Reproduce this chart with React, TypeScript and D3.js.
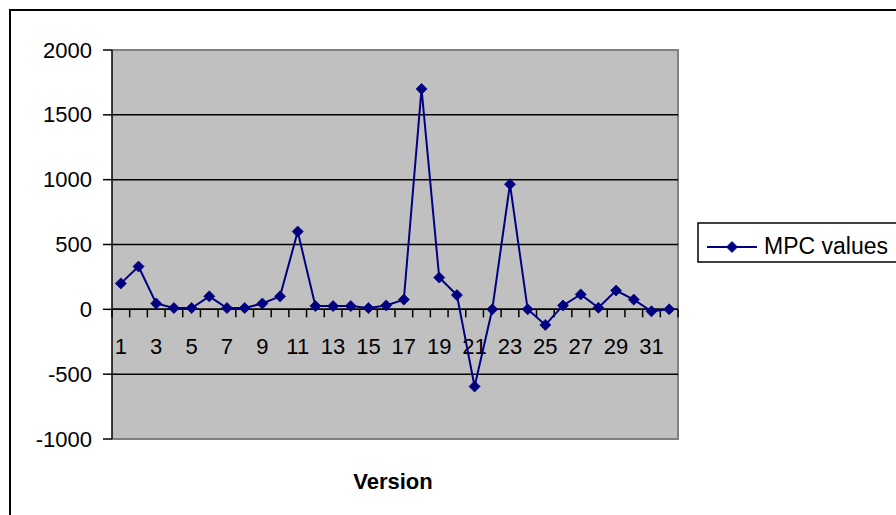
import React from "react";
import * as d3 from "d3";

// Version numbers along the category axis
const versions: number[] = d3.range(1, 33);

// MPC value per version
const mpcValues: number[] = [
  200, 330, 45, 10, 10, 100, 10, 10, 45, 100,
  600, 25, 25, 25, 10, 30, 75, 1700, 245, 110,
  -595, 0, 965, 0, -120, 30, 115, 12, 145, 75,
  -15, 0,
];

const yTicks: number[] = [-1000, -500, 0, 500, 1000, 1500, 2000];

const seriesName = "MPC values";
const axisTitle = "Version";

const W = 896;
const H = 515;
const plot = { left: 112, top: 50, right: 678, bottom: 439 };
const NAVY = "#000080";
const FONT = "'Liberation Sans', Arial, sans-serif";

function Diamond({ x, y, r = 5.5 }: { x: number; y: number; r?: number }) {
  return (
    <path
      d={`M${x},${y - r}L${x + r},${y}L${x},${y + r}L${x - r},${y}Z`}
      fill={NAVY}
      stroke={NAVY}
      strokeWidth={0.8}
    />
  );
}

export default function App() {
  const x = d3
    .scaleBand<number>()
    .domain(versions)
    .range([plot.left, plot.right])
    .padding(0);
  const y = d3.scaleLinear().domain([-1000, 2000]).range([plot.bottom, plot.top]);

  const cx = (v: number) => (x(v) as number) + x.bandwidth() / 2;
  const pts: [number, number][] = versions.map((v, i) => [cx(v), y(mpcValues[i])]);
  const line = d3.line();

  const y0 = y(0);
  const boundaries = d3.range(0, versions.length + 1).map(
    (i) => plot.left + i * x.bandwidth()
  );

  return (
    <svg
      width={W}
      height={H}
      style={{ position: "absolute", left: 0, top: 0, background: "#fff" }}
      fontFamily={FONT}
    >
      {/* chart frame */}
      <path d={`M10,${H + 5}V10H${W + 5}`} fill="none" stroke="#000" strokeWidth={2} />

      {/* plot area */}
      <rect
        x={plot.left}
        y={plot.top}
        width={plot.right - plot.left}
        height={plot.bottom - plot.top}
        fill="#c0c0c0"
      />
      <path
        d={`M${plot.left},${plot.top}H${plot.right}V${plot.bottom}H${plot.left}`}
        fill="none"
        stroke="#808080"
        strokeWidth={2}
      />

      {/* horizontal gridlines */}
      {yTicks
        .filter((t) => t !== -1000 && t !== 2000)
        .map((t) => (
          <line
            key={t}
            x1={plot.left}
            x2={plot.right}
            y1={y(t)}
            y2={y(t)}
            stroke="#000"
            strokeWidth={1.5}
          />
        ))}

      {/* value axis */}
      <line x1={plot.left} x2={plot.left} y1={plot.top} y2={plot.bottom} stroke="#000" strokeWidth={1.5} />
      {yTicks.map((t) => (
        <g key={t}>
          <line x1={plot.left - 9} x2={plot.left} y1={y(t)} y2={y(t)} stroke="#000" strokeWidth={1.5} />
          <text
            x={92}
            y={y(t)}
            textAnchor="end"
            dominantBaseline="central"
            fontSize={22}
            fill="#000"
          >
            {t}
          </text>
        </g>
      ))}

      {/* category axis at zero */}
      <line x1={plot.left} x2={plot.right} y1={y0} y2={y0} stroke="#000" strokeWidth={1.5} />
      {boundaries.map((bx, i) => (
        <line key={i} x1={bx} x2={bx} y1={y0} y2={y0 + 8} stroke="#000" strokeWidth={1.5} />
      ))}
      {versions
        .filter((v) => v % 2 === 1)
        .map((v) => (
          <text
            key={v}
            x={cx(v)}
            y={346}
            textAnchor="middle"
            dominantBaseline="central"
            fontSize={22}
            fill="#000"
          >
            {v}
          </text>
        ))}

      {/* series */}
      <path d={line(pts) ?? ""} fill="none" stroke={NAVY} strokeWidth={2} />
      {pts.map(([px, py], i) => (
        <Diamond key={i} x={px} y={py} />
      ))}

      {/* axis title */}
      <text
        x={393}
        y={481}
        textAnchor="middle"
        dominantBaseline="central"
        fontSize={22}
        fontWeight="bold"
        fill="#000"
      >
        {axisTitle}
      </text>

      {/* legend */}
      <rect x={698} y={223} width={220} height={39} fill="#fff" stroke="#000" strokeWidth={1.5} />
      <line x1={707} x2={757} y1={247} y2={247} stroke={NAVY} strokeWidth={2} />
      <Diamond x={732} y={247} />
      <text x={764} y={246} dominantBaseline="central" fontSize={23} fill="#000">
        {seriesName}
      </text>
    </svg>
  );
}
